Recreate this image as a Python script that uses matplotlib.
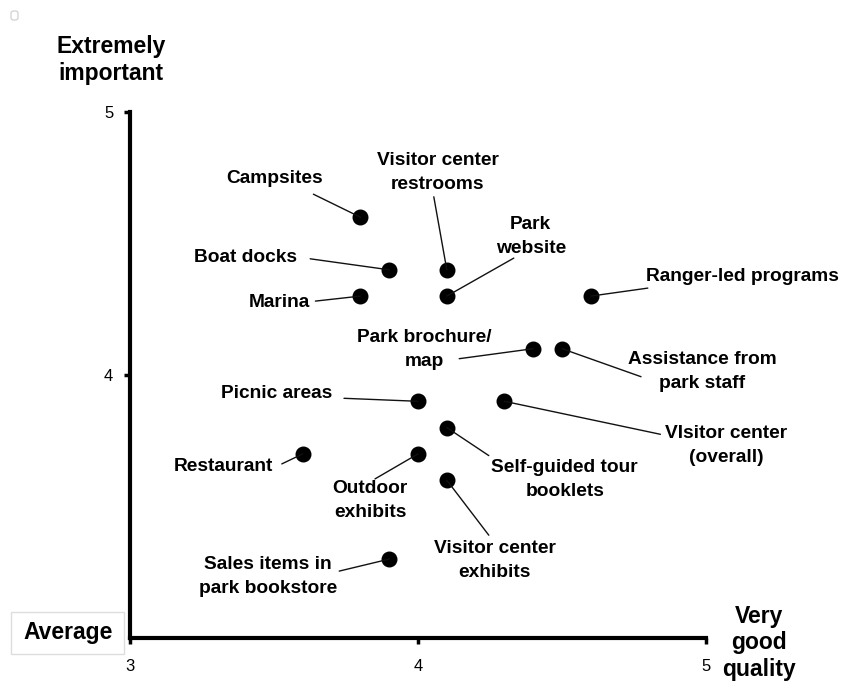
import matplotlib
matplotlib.use("Agg")
import matplotlib.pyplot as plt
from matplotlib.patches import FancyBboxPatch

plt.rcParams['font.family'] = ['Liberation Sans', 'DejaVu Sans']

# quality rating (x) vs importance rating (y) for each park service
services = ['Campsites', 'Visitor center\nrestrooms', 'Boat docks', 'Marina',
            'Park\nwebsite', 'Ranger-led programs', 'Park brochure/\nmap',
            'Assistance from\npark staff', 'Picnic areas', 'VIsitor center\n(overall)',
            'Self-guided tour\nbooklets', 'Restaurant', 'Outdoor\nexhibits',
            'Visitor center\nexhibits', 'Sales items in\npark bookstore']
quality = [3.8, 4.1, 3.9, 3.8, 4.1, 4.6, 4.4, 4.5, 4.0, 4.3, 4.1, 3.6, 4.0, 4.1, 3.9]
importance = [4.6, 4.4, 4.4, 4.3, 4.3, 4.3, 4.1, 4.1, 3.9, 3.9, 3.8, 3.7, 3.7, 3.6, 3.3]

# label placement, pixels relative to the dot: (text dx, dy, leader-line start dx, dy)
label_offsets = [(-86, 39, -47, 23), (-9, 97, -13, 73), (-144, 12, -79, 11),
                 (-81, -6, -45, -5), (84, 60, 67, 38), (152, 20, 57, 8),
                 (-109, -1, -74, -10), (140, -23, 79, -28), (-141, 8, -74, 3),
                 (222, -44, 156, -33), (118, -52, 42, -28), (-79, -13, -21, -10),
                 (-48, -47, -43, -25), (48, -80, 42, -55), (-121, -17, -50, -12)]

fig = plt.figure(figsize=(8.42, 6.84), dpi=100)
ax = fig.add_axes([130 / 842, 46 / 684, 576 / 842, 526 / 684])

ax.scatter(quality, importance, s=110, color='black', zorder=3, clip_on=False)

for name, x, y, (tdx, tdy, ldx, ldy) in zip(services, quality, importance, label_offsets):
    ax.annotate('', xy=(x, y), xytext=(ldx, ldy), textcoords='offset pixels',
                arrowprops=dict(arrowstyle='-', color='#111111', lw=1.0,
                                shrinkA=0, shrinkB=0))
    ax.annotate(name, xy=(x, y), xytext=(tdx, tdy), textcoords='offset pixels',
                ha='center', va='center', fontsize=13.8, fontweight='bold',
                linespacing=1.55)

ax.set_xlim(3, 5)
ax.set_ylim(3, 5)
ax.set_xticks([3, 4, 5])
ax.set_yticks([4, 5])
ax.tick_params(axis='both', labelsize=12, length=4, width=2.5, direction='out')
ax.tick_params(axis='x', pad=11)
ax.tick_params(axis='y', pad=8)
for side in ('top', 'right'):
    ax.spines[side].set_visible(False)
for side in ('left', 'bottom'):
    ax.spines[side].set_linewidth(3)

# axis end labels
fig.text(111 / 842, 1 - 60 / 684, 'Extremely\nimportant', ha='center', va='center',
         fontsize=16.5, fontweight='bold', linespacing=1.22)
fig.text(759 / 842, 1 - 643 / 684, 'Very\ngood\nquality', ha='center', va='center',
         fontsize=16.5, fontweight='bold', linespacing=1.17)

box = FancyBboxPatch((11 / 842, 1 - 654 / 684), 113 / 842, 42 / 684,
                     boxstyle='square,pad=0', transform=fig.transFigure,
                     facecolor='white', edgecolor='#dddddd', lw=1)
fig.patches.append(box)
fig.text(68 / 842, 1 - 632 / 684, 'Average', ha='center', va='center',
         fontsize=16.5, fontweight='bold')

corner = FancyBboxPatch((11 / 842, 1 - 20 / 684), 7 / 842, 9 / 684,
                        boxstyle='round,pad=0,rounding_size=0.003',
                        transform=fig.transFigure, facecolor='white',
                        edgecolor='#cccccc', lw=0.8)
fig.patches.append(corner)

fig.savefig('out.png', dpi=100)
